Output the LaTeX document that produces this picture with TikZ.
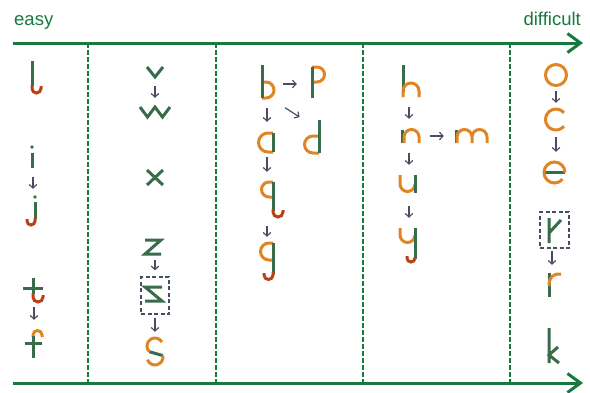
\documentclass[tikz,border=0pt]{standalone}
\usepackage{fontspec}
\setmainfont{Liberation Sans}
\definecolor{axisgreen}{RGB}{22, 122, 62}
\definecolor{stemgreen}{RGB}{56, 108, 74}
\definecolor{bowlorange}{RGB}{224, 132, 36}
\definecolor{hookred}{RGB}{184, 66, 22}
\definecolor{arrowgray}{RGB}{72, 78, 98}
\usepackage{tikz}
\usetikzlibrary{arrows.meta}

\begin{document}
\begin{tikzpicture}[x=1pt, y=-1pt,
  glyph/.style={inner sep=0pt},
  hintbox/.style={draw=arrowgray, line width=1.2pt, dash pattern=on 4pt off 2.5pt, inner sep=0pt},
  gstroke/.style={draw=stemgreen, line width=3pt},
  ostroke/.style={draw=bowlorange, line width=3pt},
  rstroke/.style={draw=hookred, line width=3pt},
  flow/.style 2 args={draw=arrowgray, line width=1.2pt, -{Straight Barb[length=3.5pt,width=7.5pt]}, shorten <=#1, shorten >=#2},
  axisline/.style={draw=axisgreen, line width=3pt, -{Straight Barb[length=13pt,width=19pt]}}]
  \useasboundingbox (0,0) rectangle (590,392);

  % Scale
  \node[text=axisgreen, font=\fontsize{18.5}{22}\selectfont, anchor=base west, inner sep=0pt] (easy) at (14,25) {easy};
  \node[text=axisgreen, font=\fontsize{18.5}{22}\selectfont, anchor=base east, inner sep=0pt] (hard) at (581,25) {difficult};
  \coordinate (topl) at (13,43);
  \coordinate (topr) at (583,43);
  \coordinate (botl) at (13,383);
  \coordinate (botr) at (583,383);
  \foreach \x in {88,216,363,510}
    \draw[axisgreen, line width=2.6pt, dash pattern=on 4.5pt off 2.5pt] (\x,43) -- (\x,383);
  \draw[axisline] (topl) -- (topr);
  \draw[axisline] (botl) -- (botr);

  % Letter boxes
  \node[glyph, minimum width=10pt, minimum height=32pt] (l) at (36,77) {};
  \node[glyph, minimum width=8pt, minimum height=24pt] (i) at (33,157) {};
  \node[glyph, minimum width=12pt, minimum height=32pt] (j) at (33,211) {};
  \node[glyph, minimum width=20pt, minimum height=24pt] (t) at (34,290) {};
  \node[glyph, minimum width=18pt, minimum height=28pt] (f) at (34,344) {};
  \node[glyph, minimum width=16pt, minimum height=10pt] (v) at (155,72) {};
  \node[glyph, minimum width=30pt, minimum height=10pt] (w) at (155,112) {};
  \node[glyph, minimum width=16pt, minimum height=15pt] (x) at (155,177.5) {};
  \node[glyph, minimum width=16pt, minimum height=14pt] (z) at (155,247) {};
  \node[hintbox, minimum width=28pt, minimum height=37pt] (zbox) at (155,295.5) {};
  \node[glyph, minimum width=16pt, minimum height=27pt] (s) at (155,351.5) {};
  \node[glyph, minimum width=14pt, minimum height=33pt] (b) at (267,84) {};
  \node[glyph, minimum width=14pt, minimum height=33pt] (p) at (318,84) {};
  \node[glyph, minimum width=16pt, minimum height=33pt] (d) at (312,136.5) {};
  \node[glyph, minimum width=16pt, minimum height=19pt] (a) at (267,142.5) {};
  \node[glyph, minimum width=20pt, minimum height=35pt] (q) at (267,199.5) {};
  \node[glyph, minimum width=16pt, minimum height=36pt] (g) at (267,261) {};
  \node[glyph, minimum width=20pt, minimum height=32pt] (h) at (409,81) {};
  \node[glyph, minimum width=20pt, minimum height=14pt] (n) at (409,136) {};
  \node[glyph, minimum width=31pt, minimum height=14pt] (m) at (471.5,136) {};
  \node[glyph, minimum width=16pt, minimum height=19pt] (u) at (409,183.5) {};
  \node[glyph, minimum width=16pt, minimum height=35pt] (y) at (409,245.5) {};
  \node[glyph, minimum width=21pt, minimum height=21pt] (o) at (556,75) {};
  \node[glyph, minimum width=21pt, minimum height=21pt] (c) at (556,119.5) {};
  \node[glyph, minimum width=21pt, minimum height=21pt] (e) at (556,172.5) {};
  \node[hintbox, minimum width=29pt, minimum height=36pt] (rbox) at (554.5,230) {};
  \node[glyph, minimum width=14pt, minimum height=24pt] (r) at (552,285) {};
  \node[glyph, minimum width=12pt, minimum height=35pt] (k) at (554,345.5) {};

  % Column 1
  \draw[gstroke] (32,61) -- (32,86);
  \draw[rstroke] (32,85) -- (32,88.5) arc[start angle=180, end angle=0, radius=4.5] -- (41,86);
  \fill[stemgreen] (32,147) circle (1.8);
  \draw[gstroke] (32,153) -- (32,168);
  \fill[stemgreen] (35,197) circle (1.8);
  \draw[gstroke] (35,202) -- (35,219);
  \draw[rstroke] (35,218) -- (35,221) arc[start angle=0, end angle=180, radius=4] -- (27,219);
  \draw[gstroke] (23,288) -- (43,288) (33,278) -- (33,294);
  \draw[rstroke] (33,293) -- (33,297) arc[start angle=180, end angle=0, radius=5] -- (43,295);
  \draw[ostroke] (33,337) -- (33,335) arc[start angle=180, end angle=360, radius=4.5] -- (42,337);
  \draw[gstroke] (33,336) -- (33,358) (25,343) -- (42,343);

  % Column 2
  \draw[gstroke] (147,67) -- (155,77) -- (163,67);
  \draw[gstroke] (140,107) -- (147.5,117) -- (155,107) -- (162.5,117) -- (170,107);
  \draw[gstroke] (147,170) -- (163,185) (147,185) -- (163,170);
  \draw[gstroke] (145,240) -- (161,240) -- (145,254) -- (161,254);
  \draw[gstroke] (162,287) -- (145,287) -- (162,301) -- (145,301);
  \draw[gstroke] (149.3,351.7) -- (162.9,355.6);
  \draw[ostroke] (161.9,342) arc[start angle=-30, end angle=-225, radius=8];
  \draw[ostroke] (162.9,355.6) arc[start angle=-10, end angle=160, radius=8];

  % Column 3
  \draw[ostroke] (262,82) -- (266,82) arc[start angle=-90, end angle=90, radius=8] -- (262,98);
  \draw[gstroke] (262,65) -- (262,98);
  \draw[ostroke] (312,67) -- (317,67) arc[start angle=-90, end angle=90, radius=7.5] -- (312,82);
  \draw[gstroke] (312,67) -- (312,98);
  \draw[ostroke] (319,136) -- (313,136) arc[start angle=270, end angle=90, radius=8.5] -- (319,153);
  \draw[gstroke] (319,120) -- (319,153);
  \draw[ostroke] (273,133) -- (268,133) arc[start angle=270, end angle=90, radius=9.5] -- (273,152);
  \draw[gstroke] (273,133) -- (273,152);
  \draw[ostroke] (273,182) -- (269,182) arc[start angle=270, end angle=90, radius=7.5] -- (273,197);
  \draw[gstroke] (273,182) -- (273,211);
  \draw[rstroke] (273,209) -- (273,212) arc[start angle=180, end angle=0, radius=5] -- (283,210);
  \draw[ostroke] (273,243) -- (269,243) arc[start angle=270, end angle=90, radius=8.5] -- (273,260);
  \draw[gstroke] (273,243) -- (273,274);
  \draw[rstroke] (273,272) -- (273,275) arc[start angle=0, end angle=180, radius=4.5] -- (264,273);

  % Column 4
  \draw[gstroke] (403,65) -- (403,92);
  \draw[ostroke] (403,97) -- (403,91) arc[start angle=180, end angle=360, radius=8] -- (419,97);
  \draw[gstroke] (402.5,129.5) -- (402.5,143);
  \draw[ostroke] (404,143) -- (404,137) arc[start angle=180, end angle=360, radius=7.5] -- (419,143);
  \draw[gstroke] (456,129.5) -- (456,143);
  \draw[ostroke] (457,143) -- (457,137) arc[start angle=180, end angle=360, radius=7.5] -- (472,143)
    (472,137) arc[start angle=180, end angle=360, radius=7.5] -- (487,143);
  \draw[ostroke] (400,175) -- (400,184) arc[start angle=180, end angle=0, radius=7.5] -- (415,184);
  \draw[gstroke] (415,175) -- (415,192.5);
  \draw[ostroke] (400,228) -- (400,235) arc[start angle=180, end angle=0, radius=7.5] -- (415,235);
  \draw[gstroke] (415,228) -- (415,259);
  \draw[rstroke] (415,257) -- (415,258) arc[start angle=0, end angle=180, radius=4] -- (407,256);

  % Column 5
  \draw[ostroke] (556,75) circle (10.5);
  \draw[ostroke] (564,112.75) arc[start angle=-40, end angle=-320, radius=10.5];
  \draw[gstroke] (544,172.5) -- (565,172.5);
  \draw[ostroke] (565,172.5) arc[start angle=0, end angle=-320, radius=10.5];
  \draw[gstroke] (549,218) -- (549,243) (549,233) -- (561,220);
  \draw[gstroke] (549,273) -- (549,297);
  \draw[ostroke] (549,286) .. controls (549,277) and (553,273.5) .. (561,274);
  \draw[gstroke] (549,328) -- (549,363) (558,347) -- (549,355) -- (559,363);

  % Steps
  \draw[flow={8pt}{6pt}] (i.south) -- (j.north);
  \draw[flow={5pt}{10pt}] (t.south) -- (f.north);
  \draw[flow={9pt}{9pt}] (v.south) -- (w.north);
  \draw[flow={6pt}{6pt}] (z.south) -- (zbox.north);
  \draw[flow={3pt}{6pt}] (zbox.south) -- (s.north);
  \draw[flow={9pt}{14pt}] (b.east) -- (p.west);
  \draw[flow={13pt}{5pt}] (b.south east) -- (d.north west);
  \draw[flow={7.5pt}{11pt}] (b.south) -- (a.north);
  \draw[flow={5pt}{10pt}] (a.south) -- (q.north);
  \draw[flow={9pt}{6pt}] (q.south) -- (g.north);
  \draw[flow={10pt}{10pt}] (h.south) -- (n.north);
  \draw[flow={11pt}{12pt}] (n.east) -- (m.west);
  \draw[flow={10pt}{9pt}] (n.south) -- (u.north);
  \draw[flow={13pt}{10pt}] (u.south) -- (y.north);
  \draw[flow={5.5pt}{6pt}] (o.south) -- (c.north);
  \draw[flow={7pt}{10pt}] (c.south) -- (e.north);
  \draw[flow={2pt}{8pt}] (rbox.south -| r.north) -- (r.north);
\end{tikzpicture}
\end{document}
